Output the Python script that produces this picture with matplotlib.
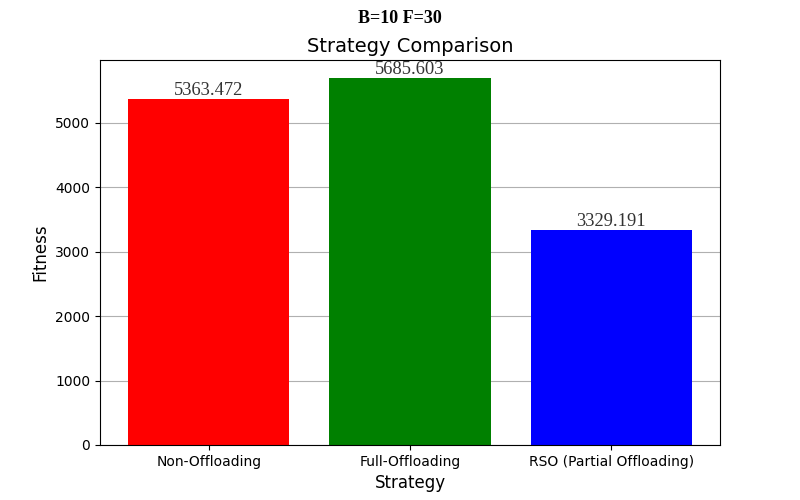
import matplotlib
matplotlib.use("Agg")
import matplotlib.pyplot as plt

strategies = ['Non-Offloading', 'Full-Offloading', 'RSO (Partial Offloading)']
fitness = [5363.472, 5685.603, 3329.191]
bar_colors = ['red', 'green', 'blue']

fig, ax = plt.subplots(figsize=(8, 5), dpi=100)
bars = ax.bar(strategies, fitness, color=bar_colors, zorder=2)
for b, v in zip(bars, fitness):
    ax.text(b.get_x() + b.get_width() / 2, b.get_height(), '%.3f' % v,
            ha='center', va='bottom', fontsize=13.3, color='#333333',
            family='Liberation Serif')
ax.yaxis.grid(True, zorder=0)
ax.set_title('Strategy Comparison', fontsize=14)
ax.set_xlabel('Strategy', fontsize=12)
ax.set_ylabel('Fitness', fontsize=12)
fig.suptitle('B=10 F=30', fontweight='bold', family='Liberation Serif', fontsize=13)
fig.savefig('out.png')
